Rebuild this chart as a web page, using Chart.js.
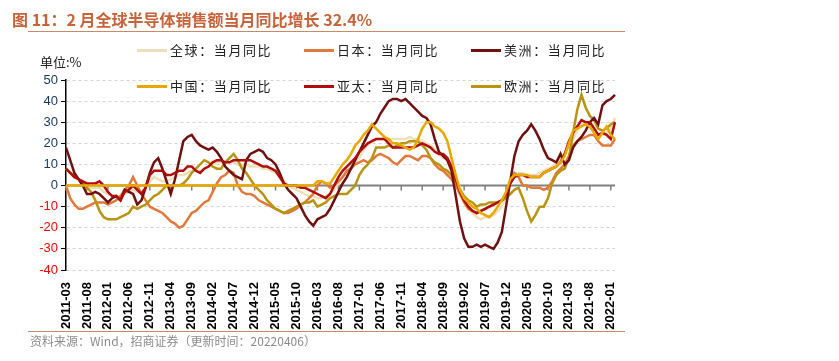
<!DOCTYPE html>
<html><head><meta charset="utf-8">
<script src="https://cdn.jsdelivr.net/npm/chart.js@4/dist/chart.umd.min.js"></script>
<style>
html,body{margin:0;padding:0;background:#fff;}
#wrap{position:relative;width:839px;height:361px;overflow:hidden;font-family:"Noto Sans CJK SC","Noto Sans",sans-serif;}
#title{position:absolute;left:12px;top:7px;font-size:16px;font-weight:bold;color:#c8623a;white-space:nowrap;}
.hline{position:absolute;left:28px;width:597px;height:1px;background:#c98a6a;}
#unit{position:absolute;left:40px;top:52px;font-size:13px;color:#222;}
.lg{position:absolute;font-size:13px;color:#222;white-space:nowrap;letter-spacing:1.6px;height:18px;line-height:18px;}
.lg span.sw{display:inline-block;width:30px;height:3px;vertical-align:middle;margin-right:3px;position:relative;top:-1px;}
#src{position:absolute;left:30px;top:332px;font-size:12px;color:#8c8c8c;white-space:nowrap;}
canvas{position:absolute;left:0;top:0;}
</style></head>
<body>
<div id="wrap">
<canvas id="c" width="839" height="361"></canvas>
<div id="title">图 11：2 月全球半导体销售额当月同比增长 32.4%</div>
<div class="hline" style="top:31px"></div>
<div id="unit">单位:%</div>
<div class="lg" style="left:137px;top:41px"><span class="sw" style="background:#efdfb8"></span>全球：当月同比</div>
<div class="lg" style="left:304px;top:41px"><span class="sw" style="background:#e2793a"></span>日本：当月同比</div>
<div class="lg" style="left:471px;top:41px"><span class="sw" style="background:#701010"></span>美洲：当月同比</div>
<div class="lg" style="left:137px;top:77px"><span class="sw" style="background:#e8a800"></span>中国：当月同比</div>
<div class="lg" style="left:304px;top:77px"><span class="sw" style="background:#b00e0e"></span>亚太：当月同比</div>
<div class="lg" style="left:471px;top:77px"><span class="sw" style="background:#b89410"></span>欧洲：当月同比</div>
<div class="hline" style="top:331px"></div>
<div id="src">资料来源：Wind，招商证券（更新时间：20220406）</div>
</div>
<script>
// categories: monthly 2011-03 .. 2022-02
const categories = [];
for (let y = 2011, m = 3; !(y === 2022 && m === 3); ) {
  categories.push(y + '-' + String(m).padStart(2, '0'));
  m++; if (m > 12) { m = 1; y++; }
}
const yTicks = [50, 40, 30, 20, 10, 0, -10, -20, -30, -40];

const world = [8,6,4,3,1,0,-1,-1,-1,-3, -4,-5,-5,-5,-4,-3,-2,-3,-3,-1,
  2,4,3,2,2,3,4,5,5,6, 7,7,7,8,9,10,11,11,11,11,
  11,10,10,10,9,9,9,8,8,7, 6,4,2,0,-1,-2,-3,-4,-5,-5,
  -6,-6,-5,-4,-2,1,4,6,9,11, 13,17,19,21,22,22,22,22,22,22,
  22,22,23,22,22,21,20,19,17,15, 13,12,8,4,-1,-6,-11,-13,-15,-16,
  -15,-15,-14,-12,-10,-6,2,5,6,6, 5,5,5,6,7,8,9,11,13,15,
  18,22,26,29,29,30,28,24,24,25, 27,32];
const japan = [0,-6,-9,-11,-11,-10,-9,-8,-8,-8, -9,-8,-7,-5,-2,0,4,0,-4,-7,
  -10,-11,-12,-13,-15,-17,-18,-20,-19,-16, -13,-12,-10,-8,-7,-3,1,4,5,7,
  6,0,-3,-4,-4,-5,-7,-8,-9,-10, -11,-12,-13,-13,-12,-11,-9,-8,-6,-4,
  0,2,1,-1,0,2,4,7,8,10, 11,12,11,12,14,15,14,13,11,10,
  12,14,14,13,12,14,14,13,10,8, 7,5,3,0,-4,-8,-11,-12,-13,-12,
  -11,-10,-9,-8,-7,-5,1,6,4,0, 0,-1,-1,-1,-2,-1,2,6,8,10,
  14,19,21,22,23,24,24,21,19,19, 19,22];
const americas = [18,12,6,3,0,-4,-4,-3,-4,-6, -8,-6,-5,-7,-2,-3,-4,-9,-7,-1,
  6,11,13,8,2,-4,3,12,21,23, 24,21,19,18,17,18,16,13,9,7,
  5,4,3,12,15,16,17,16,13,12, 10,6,1,-2,-4,-6,-10,-14,-17,-19,
  -16,-15,-14,-11,-7,-3,1,4,8,12, 16,20,24,28,30,34,37,40,41,41,
  40,41,39,37,35,33,32,29,22,16, 14,12,7,-5,-17,-25,-29,-29,-28,-29,
  -28,-29,-30,-27,-22,-10,2,14,21,24, 26,29,26,22,17,13,12,11,15,10,
  12,18,21,23,26,30,32,29,38,40, 41,43];
const china = [0,0,0,0,0,0,0,0,0,0, 0,0,0,0,0,0,0,0,0,0,
  0,0,0,0,0,0,0,0,0,0, 0,0,0,0,0,0,0,0,0,0,
  0,0,0,0,0,0,0,0,0,0, 0,0,0,0,0,0,0,0,0,0,
  2,2,1,1,4,7,10,12,15,19, 21,24,26,29,27,25,23,22,20,20,
  19,18,17,18,22,27,30,30,28,27, 25,21,13,5,-2,-6,-8,-10,-11,-13,
  -14,-15,-13,-10,-7,-3,3,5,5,5, 5,4,4,4,6,7,8,9,11,14,
  20,26,27,28,29,28,25,22,25,28, 24,22];
const asiaPacific = [8,6,4,3,2,1,1,1,2,0, -3,-5,-5,-7,-3,-2,0,-2,-4,-1,
  5,7,7,7,5,5,6,7,7,9, 9,7,6,8,9,11,12,12,11,11,
  12,12,12,12,12,11,10,9,9,8, 7,4,1,0,0,0,-1,-1,-2,-3,
  -4,-5,-6,-4,0,4,7,9,11,13, 16,18,20,21,22,22,22,20,18,18,
  18,18,18,18,19,20,19,18,16,15, 15,13,9,3,-3,-7,-10,-12,-13,-12,
  -11,-10,-9,-8,-7,-4,1,4,5,5, 4,4,4,4,6,7,8,9,11,15,
  21,25,28,31,30,30,27,24,25,24, 22,30];
const europe = [8,6,5,3,1,-1,-3,-7,-12,-15, -16,-16,-16,-15,-14,-13,-10,-11,-10,-9,
  -7,-5,-4,-2,0,0,0,0,1,3, 6,8,10,12,11,9,8,8,11,13,
  15,12,8,6,3,0,-2,-4,-7,-9, -11,-12,-13,-12,-11,-10,-9,-8,-8,-7,
  -10,-9,-8,-6,-5,-4,-4,-4,-2,0, 5,8,10,13,18,18,18,19,18,19,
  20,20,21,21,21,19,17,13,11,10, 8,7,5,2,-2,-5,-7,-8,-10,-9,
  -9,-8,-8,-8,-7,-6,-4,-2,-1,-6, -12,-17,-14,-10,-10,-6,1,5,7,8,
  13,25,36,43,37,33,31,27,26,27, 29,30];

const seriesDefs = [
  {label:'全球：当月同比', data: world, color:'#efdfb8', order:6},
  {label:'日本：当月同比', data: japan, color:'#e2793a', order:5},
  {label:'欧洲：当月同比', data: europe, color:'#b89410', order:4},
  {label:'美洲：当月同比', data: americas, color:'#701010', order:3},
  {label:'亚太：当月同比', data: asiaPacific, color:'#b00e0e', order:2},
  {label:'中国：当月同比', data: china, color:'#e8a800', order:1}
];

const zeroLine = {
  id: 'zeroLine',
  beforeDatasetsDraw(chart) {
    const {ctx, scales: {x, y}, chartArea} = chart;
    const py = y.getPixelForValue(0);
    ctx.save();
    ctx.strokeStyle = '#808080';
    ctx.lineWidth = 2;
    ctx.beginPath(); ctx.moveTo(chartArea.left, py); ctx.lineTo(chartArea.right, py); ctx.stroke();
    ctx.lineWidth = 1.5;
    for (let i = 0; i < categories.length; i += 5) {
      const px = x.getPixelForValue(i);
      ctx.beginPath(); ctx.moveTo(px, py); ctx.lineTo(px, py + 5); ctx.stroke();
    }
    ctx.restore();
  }
};

new Chart(document.getElementById('c'), {
  type: 'line',
  data: {
    labels: categories,
    datasets: seriesDefs.map(s => ({
      label: s.label, data: s.data, borderColor: s.color, backgroundColor: s.color,
      borderWidth: 2.5, pointRadius: 0, tension: 0, fill: false, order: s.order
    }))
  },
  options: {
    responsive: false, animation: false, devicePixelRatio: 1,
    layout: {padding: {left: 0, top: 80, right: 224, bottom: 0}},
    plugins: {legend: {display: false}, tooltip: {enabled: false}},
    scales: {
      x: {
        offset: false,
        grid: {display: false},
        border: {display: false},
        ticks: {
          autoSkip: false, minRotation: 90, maxRotation: 90, padding: 4,
          color: '#000', font: {family: 'Arial, "Liberation Sans", sans-serif', size: 13, weight: 'bold'},
          callback: function(v, i) { return i % 5 === 0 ? categories[i] : ''; }
        },
        afterFit: s => { s.height = 91; }
      },
      y: {
        min: -40, max: 50,
        afterBuildTicks: s => { s.ticks = yTicks.map(v => ({value: v})); },
        grid: {
          color: ctx => (ctx.tick && ctx.tick.value === 0) ? 'rgba(0,0,0,0)' : '#d4d4d4',
          lineWidth: 1, drawTicks: true, tickLength: 5, tickColor: '#000', tickWidth: 1
        },
        border: {display: true, color: '#000', width: 1.5, dash: [3, 3]},
        ticks: {
          padding: 3,
          color: ctx => ctx.tick.value < 0 ? '#ff0000' : '#17375e',
          font: {family: 'Arial, "Liberation Sans", sans-serif', size: 13}
        },
        afterFit: s => { s.width = 66; }
      }
    }
  },
  plugins: [zeroLine]
});
</script>
</body></html>
